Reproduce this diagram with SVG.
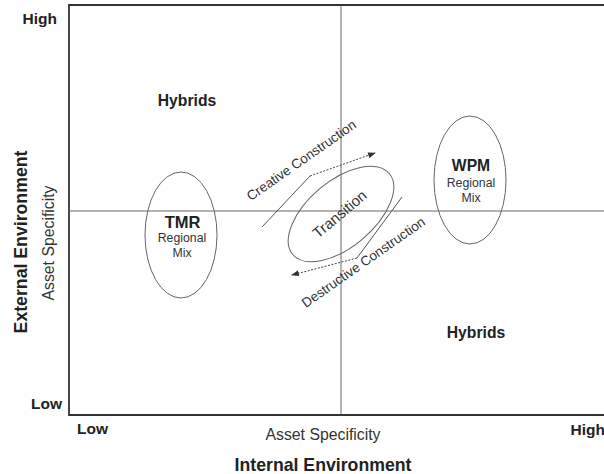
<svg xmlns="http://www.w3.org/2000/svg" width="604" height="474" viewBox="0 0 604 474">
<defs>
<style>
.b{font-family:"Liberation Sans",Arial,sans-serif;font-weight:bold;fill:#222}
.r{font-family:"Liberation Sans",Arial,sans-serif;fill:#333}
.el{fill:none;stroke:#666;stroke-width:1}
.ax{stroke:#333;stroke-width:1.8;fill:none}
.q{stroke:#666;stroke-width:1;fill:none}
.c{stroke:#555;stroke-width:1;fill:none}
.d{stroke:#444;stroke-width:1;fill:none;stroke-dasharray:2 1.5}
</style>
<marker id="ah" markerWidth="8" markerHeight="6" refX="7" refY="3" orient="auto" markerUnits="userSpaceOnUse">
<path d="M0,0 L8,3 L0,6 Z" fill="#333"/>
</marker>
</defs>
<rect width="604" height="474" fill="#fff"/>
<g id="axes">
<path class="ax" d="M604,5 H69 V415 H604"/>
<line class="q" x1="69" y1="211" x2="604" y2="211"/>
<line class="q" x1="341" y1="5" x2="341" y2="415"/>
<text class="b" x="57" y="24" font-size="15.5" text-anchor="end">High</text>
<text class="b" x="62" y="409" font-size="15.5" text-anchor="end">Low</text>
<text class="b" x="77" y="434" font-size="15.5">Low</text>
<text class="b" x="605" y="435" font-size="15.5" text-anchor="end">High</text>
<text class="r" x="323" y="440" font-size="15.8" text-anchor="middle">Asset Specificity</text>
<text class="b" x="323" y="471" font-size="17.7" text-anchor="middle">Internal Environment</text>
<text class="b" transform="translate(27,242) rotate(-90)" font-size="17.7" text-anchor="middle">External Environment</text>
<text class="r" transform="translate(54,243) rotate(-90)" font-size="15.8" text-anchor="middle">Asset Specificity</text>
</g>
<g id="hybrids-top"><text class="b" x="187" y="106" font-size="15.7" text-anchor="middle">Hybrids</text></g>
<g id="hybrids-bottom"><text class="b" x="476" y="338" font-size="15.7" text-anchor="middle">Hybrids</text></g>
<g id="tmr">
<ellipse class="el" cx="181" cy="235" rx="36" ry="63"/>
<text class="b" x="182.5" y="228" font-size="16.5" text-anchor="middle">TMR</text>
<text class="r" x="182" y="242" font-size="12.3" text-anchor="middle">Regional</text>
<text class="r" x="182" y="257" font-size="12.3" text-anchor="middle">Mix</text>
</g>
<g id="wpm">
<ellipse class="el" cx="470" cy="180" rx="36" ry="64"/>
<text class="b" x="471" y="171" font-size="15.7" text-anchor="middle">WPM</text>
<text class="r" x="471" y="187" font-size="12.3" text-anchor="middle">Regional</text>
<text class="r" x="471" y="202" font-size="12.3" text-anchor="middle">Mix</text>
</g>
<g id="transition">
<ellipse class="el" cx="341" cy="214" rx="63" ry="33" transform="rotate(-40 341 214)"/>
<text class="r" transform="translate(343,218) rotate(-40)" font-size="15" text-anchor="middle">Transition</text>
</g>
<g id="connectors">
<polyline class="c" points="262,227 310,176"/>
<path class="d" d="M310,176 L375,153" marker-end="url(#ah)"/>
<polyline class="c" points="402,197 357,258"/>
<path class="d" d="M357,258 L292,275" marker-end="url(#ah)"/>
</g>
<g id="labels">
<text class="r" transform="translate(304,164) rotate(-35)" font-size="13.5" text-anchor="middle">Creative Construction</text>
<text class="r" transform="translate(366,266) rotate(-35)" font-size="13.5" text-anchor="middle">Destructive Construction</text>
</g>
</svg>
